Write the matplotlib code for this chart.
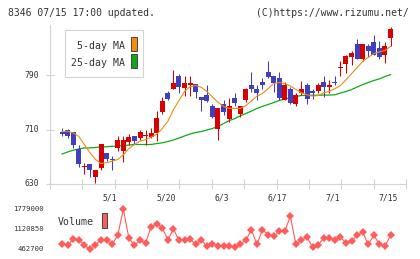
import matplotlib
matplotlib.use("Agg")
import matplotlib.pyplot as plt
import matplotlib.patches as patches
import numpy as np

# candles (open, high, low, close), oldest first
opens = [713, 706, 710, 706, 682, 655, 660, 640, 654, 676, 667, 683, 678, 691, 700, 697,
         701, 699, 705, 735, 764, 770, 788, 771, 775, 777, 758, 760, 745, 711, 748, 725,
         757, 733, 753, 776, 770, 780, 795, 788, 785, 754, 770, 747, 764, 775, 766, 767,
         780, 773, 780, 800, 806, 817, 835, 814, 832, 838, 829, 820, 844]
highs = [714, 712, 711, 707, 688, 661, 660, 651, 689, 676, 671, 700, 700, 704, 700, 710,
         709, 712, 737, 758, 767, 797, 791, 788, 788, 777, 758, 775, 748, 741, 754, 756,
         763, 745, 771, 794, 776, 786, 810, 788, 795, 780, 772, 763, 781, 779, 769, 778,
         788, 783, 788, 810, 819, 826, 843, 835, 835, 849, 840, 838, 861]
lows = [713, 700, 697, 683, 655, 644, 640, 631, 650, 664, 651, 678, 662, 688, 689, 695,
        688, 698, 693, 733, 754, 769, 764, 759, 759, 757, 737, 751, 727, 695, 731, 721,
        745, 728, 751, 765, 753, 770, 786, 765, 754, 753, 747, 745, 760, 748, 755, 764,
        758, 764, 776, 789, 793, 805, 814, 810, 817, 819, 814, 808, 833]
closes = [714, 703, 700, 687, 659, 656, 650, 651, 689, 666, 665, 695, 694, 699, 693, 706,
          702, 705, 727, 752, 755, 779, 772, 778, 778, 765, 753, 752, 728, 741, 736, 744,
          749, 745, 769, 769, 764, 776, 787, 779, 756, 776, 749, 760, 769, 755, 764, 775,
          772, 776, 778, 801, 818, 823, 814, 835, 825, 819, 817, 832, 857]

# moving averages and volume, from the 2nd candle on
ma5 = [707, 707.5, 705, 700, 688, 676, 666, 660, 661.5, 663.5, 666, 673, 682, 688, 693,
       695, 699, 703, 711.5, 722, 739, 752.6, 766, 773, 774.6, 772, 766, 758, 750, 744,
       741, 741, 741, 745, 752, 759, 763, 770, 777.5, 779, 777.5, 774, 768.7, 764, 761,
       759, 760, 764, 766, 770, 774.6, 783, 792, 801, 810, 816, 821.6, 824, 826, 832]
ma25 = [674, 677, 679.6, 681.4, 683, 683, 683.6, 684.3, 684.8, 685.3, 685.8, 686.5, 687.2,
        688, 688, 688, 688, 689.4, 690.5, 692.4, 694.6, 697.5, 700.5, 703.4, 705.6, 707,
        709.3, 711.5, 714.4, 718.8, 723, 726, 730, 733.5, 737, 741, 744, 746.7, 749.6,
        752.6, 754.8, 756.5, 758.4, 760, 760, 760.4, 760.4, 760.6, 760.6, 761, 763.6,
        765.8, 768.7, 772.4, 776, 779, 782, 784.4, 787.8, 790.7]
volume = [638000, 585000, 794000, 771000, 585000, 462700, 605000, 771000, 765000, 620000,
          917000, 1779000, 827000, 585000, 751000, 662000, 1192000, 1302000, 1159000, 771000,
          1126000, 751000, 751000, 794000, 619000, 771000, 552000, 619000, 572000, 552000,
          552000, 519000, 619000, 751000, 1103000, 619000, 1103000, 937000, 884000, 1050000,
          1050000, 1547000, 619000, 751000, 861000, 519000, 595000, 827000, 827000, 771000,
          851000, 662000, 718000, 917000, 1016000, 619000, 917000, 619000, 552000, 917000]

date_labels = ['5/1', '5/20', '6/3', '6/17', '7/1', '7/15']
date_index = [10, 20, 30, 40, 50, 60]
price_ticks = [630, 710, 790]

W, H = 420, 259
fig = plt.figure(figsize=(W / 100, H / 100), dpi=100)
mono = 'DejaVu Sans Mono'
grey = '#d4d4d4'
txt = '#333333'


def fx(x):
    return x / W


def fy(y):
    return 1 - y / H


fig.text(fx(8), fy(13), '8346 07/15 17:00 updated.', family=mono, fontsize=7.0,
         color=txt, va='center', ha='left')
fig.text(fx(409), fy(13), '(C)https://www.rizumu.net/', family=mono, fontsize=7.0,
         color=txt, va='center', ha='right')

# price panel
ax = fig.add_axes([fx(50), fy(184), (406 - 50) / W, (184 - 20.5) / H])
ax.set_xlim(-1.168, 62.78)
ax.set_ylim(630, 870.1)
for s in ['top', 'right']:
    ax.spines[s].set_visible(False)
ax.spines['left'].set_color(grey)
ax.spines['bottom'].set_color(grey)
ax.spines['left'].set_bounds(630, 863.5)
ax.spines['left'].set_linewidth(0.8)
ax.spines['bottom'].set_linewidth(0.8)
ax.set_xticks(np.linspace(-1.168, 62.78, 12))
ax.set_xticklabels([])
ax.set_yticks(price_ticks)
ax.set_yticklabels([])
ax.tick_params(axis='both', direction='inout', color=grey, width=0.8)
ax.tick_params(axis='x', length=6.5)
ax.tick_params(axis='y', length=6)

idx = np.arange(len(opens))
o = np.array(opens, float)
c = np.array(closes, float)
up = c >= o
cols = np.where(up, '#d80000', '#3f3fbf')
ax.vlines(idx, lows, highs, colors=cols, linewidth=0.75, zorder=3)
body = np.maximum(np.abs(c - o), 1.2)
ax.bar(idx, body, bottom=np.minimum(o, c), width=0.9, color=cols, linewidth=0, zorder=4)

mi = np.arange(1, len(opens))
ax.plot(mi, ma5, color='#f08c10', linewidth=0.8, zorder=5)
ax.plot(mi, ma25, color='#10a818', linewidth=0.9, zorder=2)

for i, lab in zip(date_index, date_labels):
    ax.text(i - 0.35, 630 - 14 / 0.681, lab, family=mono, fontsize=5.8, color=txt,
            ha='center', va='center', clip_on=False)
for p in price_ticks:
    fig.text(fx(39.5), fy(184 - (p - 630) * 0.681), str(p), family=mono, fontsize=5.8,
             color=txt, ha='right', va='center')

# legend box
fig.add_artist(patches.Rectangle((fx(65), fy(77)), 78 / W, 47 / H, transform=fig.transFigure,
                                 facecolor='white', edgecolor=grey, linewidth=0.8, zorder=10))
fig.text(fx(125), fy(46), '5-day MA', family=mono, fontsize=7.1, color=txt, ha='right',
         va='center', zorder=11)
fig.text(fx(125), fy(63), '25-day MA', family=mono, fontsize=7.1, color=txt, ha='right',
         va='center', zorder=11)
fig.add_artist(patches.Rectangle((fx(131), fy(51)), 6 / W, 14 / H, transform=fig.transFigure,
                                 facecolor='#f08c10', edgecolor='#444444', linewidth=0.7, zorder=11))
fig.add_artist(patches.Rectangle((fx(131), fy(68)), 6 / W, 14 / H, transform=fig.transFigure,
                                 facecolor='#10a818', edgecolor='#444444', linewidth=0.7, zorder=11))

# volume panel
vmin, vmax = min(volume), max(volume)
per_px = (vmax - vmin) / 39.7
av = fig.add_axes([fx(50), fy(252), (406 - 50) / W, 47 / H])
av.set_xlim(-1.168, 62.78)
av.set_ylim(vmin - 3 * per_px, vmax + 4.3 * per_px)
av.axis('off')
av.plot(mi, volume, color='#ff5c5c', linewidth=0.8, marker='D', markersize=4.0,
        markeredgewidth=0)
for v in [vmax, (vmax + vmin) / 2, vmin]:
    fig.text(fx(44), fy(249 - (v - vmin) / per_px), '%d' % round(v), family=mono,
             fontsize=5.2, color=txt, ha='right', va='center')
fig.text(fx(58), fy(222), 'Volume', family=mono, fontsize=7.1, color=txt, ha='left', va='center')
fig.add_artist(patches.Rectangle((fx(102), fy(228)), 5.5 / W, 15 / H, transform=fig.transFigure,
                                 facecolor='#ff5c5c', edgecolor='#444444', linewidth=0.7))

fig.savefig('out.png', dpi=100)
